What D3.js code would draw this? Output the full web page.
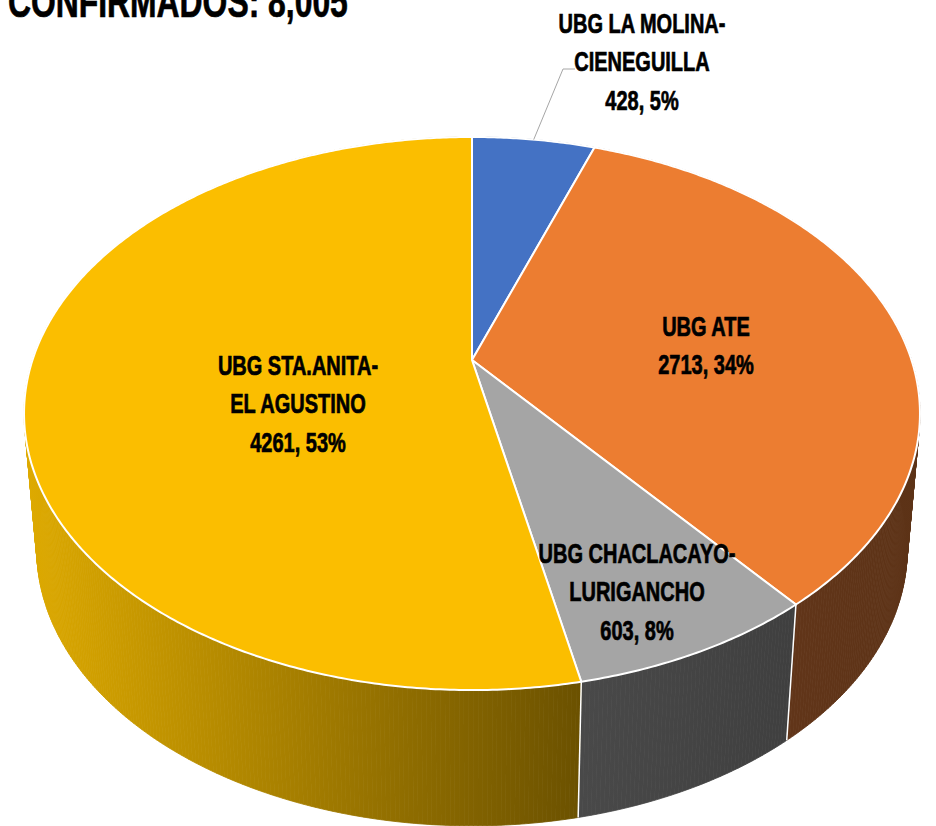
<!DOCTYPE html>
<html lang="es">
<head>
<meta charset="utf-8">
<title>Confirmados por UBG</title>
<script src="https://d3js.org/d3.v7.min.js"></script>
<style>
  body { margin: 0; background: #fff; }
  svg { display: block; }
  .lbl {
    font-family: "Liberation Sans", Arial, sans-serif;
    font-weight: bold;
    fill: #000;
    stroke: #000;
    stroke-width: 0.7;
  }
</style>
</head>
<body>
<svg id="chart" width="936" height="826"></svg>
<script>
// data
const categories = ["UBG LA MOLINA-CIENEGUILLA", "UBG ATE", "UBG CHACLACAYO-LURIGANCHO", "UBG STA.ANITA-EL AGUSTINO"];
const values = [428, 2713, 603, 4261];
const labelLines = [["UBG LA MOLINA-", "CIENEGUILLA"], ["UBG ATE"], ["UBG CHACLACAYO-", "LURIGANCHO"], ["UBG STA.ANITA-", "EL AGUSTINO"]];
const titleText = "CONFIRMADOS: 8,005";

// styles
const topColors = ["#4472C4", "#EC7D31", "#A5A5A5", "#FBBE00"];
const wallLight = ["#24396B", "#613519", "#494949", "#DEAA00"];
const wallDark = ["#1D3260", "#5C3216", "#3F3F3F", "#6B5100"];

// layout (label text anchors, first baseline)
const labelPos = [[642, 33], [706, 336], [637, 563], [298, 375]];
const lineH = 38.5;
const textSX = 0.74;
const titleSX = 0.716;

const total = d3.sum(values);

const svg = d3.select("#chart");

// perspective disc: top and bottom faces
const K = 0.1935;
const faces = [
  { cx: 472, cy: 360, a: 439.5, b: 266.2 },
  { cx: 472, cy: 496, a: 427, b: 266 }
];
function proj(t, r, face) {
  const f = faces[face];
  const w = 1 + K * r * Math.cos(t);
  return [f.cx + f.a * r * Math.sin(t) / w, f.cy - f.b * r * Math.cos(t) / w];
}
function sample(a0, a1, step) {
  const n = Math.max(1, Math.ceil((a1 - a0) / step));
  return d3.range(n + 1).map(i => a0 + (a1 - a0) * i / n);
}

const arcs = d3.pie().sort(null).value(d => d)(values);
const STEP = Math.PI / 360;

// gradients for the side walls
const defs = svg.append("defs");
arcs.forEach((d, i) => {
  const ts = sample(d.startAngle, d.endAngle, STEP);
  let front = ts.filter(t => Math.cos(t) < 0);
  if (!front.length) front = ts;
  const xs = front.map(t => proj(t, 1, 0)[0]);
  const g = defs.append("linearGradient")
    .attr("id", "wall" + i)
    .attr("gradientUnits", "userSpaceOnUse")
    .attr("x1", d3.min(xs)).attr("x2", d3.max(xs))
    .attr("y1", 0).attr("y2", 0);
  g.append("stop").attr("offset", 0).attr("stop-color", wallLight[i]);
  g.append("stop").attr("offset", 1).attr("stop-color", wallDark[i]);
});

// side wall pieces, back to front
const quads = [];
arcs.forEach((d, i) => {
  const ts = sample(d.startAngle, d.endAngle, STEP);
  for (let j = 0; j < ts.length - 1; j++) {
    const t0 = ts[j], t1 = ts[j + 1];
    quads.push({
      i: i,
      depth: -Math.cos((t0 + t1) / 2),
      pts: [proj(t0, 1, 0), proj(t1, 1, 0), proj(t1, 1, 1), proj(t0, 1, 1)]
    });
  }
});
quads.sort((p, q) => p.depth - q.depth);

const line = d3.line();
svg.append("g").selectAll("path")
  .data(quads)
  .join("path")
  .attr("d", q => line(q.pts) + "Z")
  .attr("fill", q => "url(#wall" + q.i + ")")
  .attr("stroke", q => "url(#wall" + q.i + ")")
  .attr("stroke-width", 0.8);

// white seams where slices meet on the front wall
svg.append("g").selectAll("line")
  .data(arcs.filter(d => Math.cos(d.endAngle) < 0))
  .join("line")
  .attr("x1", d => proj(d.endAngle, 1, 0)[0])
  .attr("y1", d => proj(d.endAngle, 1, 0)[1])
  .attr("x2", d => proj(d.endAngle, 1, 1)[0])
  .attr("y2", d => proj(d.endAngle, 1, 1)[1])
  .attr("stroke", "#fff")
  .attr("stroke-width", 1.5);

// top face
svg.append("g").selectAll("path")
  .data(arcs)
  .join("path")
  .attr("d", d => {
    const pts = [proj(0, 0, 0)].concat(sample(d.startAngle, d.endAngle, STEP).map(t => proj(t, 1, 0)));
    return line(pts) + "Z";
  })
  .attr("fill", (d, i) => topColors[i])
  .attr("stroke", "#fff")
  .attr("stroke-width", 2)
  .attr("stroke-linejoin", "round");

// leader line for the small slice
const a0 = arcs[0];
const rim = proj((a0.startAngle + a0.endAngle) / 2, 1, 0);
svg.append("polyline")
  .attr("points", [rim, [563, 69], [575, 69]].map(p => p.join(",")).join(" "))
  .attr("fill", "none")
  .attr("stroke", "#A6A6A6")
  .attr("stroke-width", 1);

// data labels
arcs.forEach((d, i) => {
  const lines = labelLines[i].concat([values[i] + ", " + Math.round(values[i] / total * 100) + "%"]);
  const t = svg.append("text")
    .attr("class", "lbl")
    .attr("text-anchor", "middle")
    .attr("font-size", 27)
    .attr("transform", "translate(" + labelPos[i][0] + "," + labelPos[i][1] + ") scale(" + textSX + ",1)");
  lines.forEach((s, j) => {
    t.append("tspan").attr("x", 0).attr("y", j * lineH).text(s);
  });
});

// title, cut at the top edge like the source
svg.append("text")
  .attr("class", "lbl")
  .attr("font-size", 44.5)
  .attr("transform", "translate(8,17) scale(" + titleSX + ",1)")
  .text(titleText);
</script>
</body>
</html>
